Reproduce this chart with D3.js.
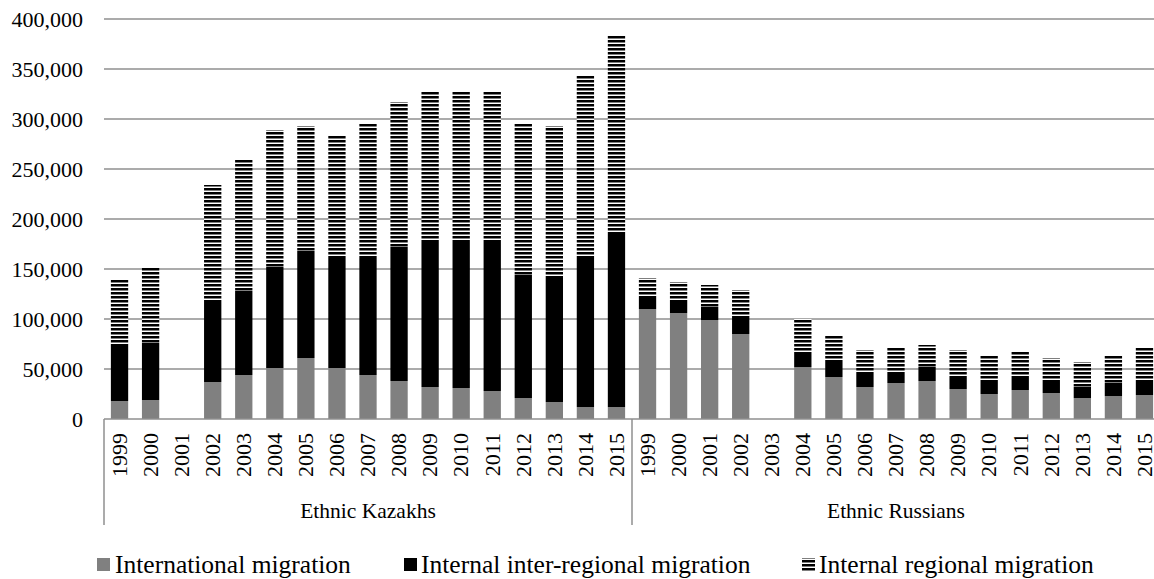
<!DOCTYPE html>
<html>
<head>
<meta charset="utf-8">
<script src="https://cdn.jsdelivr.net/npm/d3@7"></script>
<style>
  html, body { margin: 0; padding: 0; background: #fff; }
  svg { display: block; font-family: "Liberation Serif", serif; }
</style>
</head>
<body>
<svg id="chart" width="1154" height="579"></svg>
<script>
// ---- data ----
const groups = ["Ethnic Kazakhs", "Ethnic Russians"];
const years = ["1999","2000","2001","2002","2003","2004","2005","2006","2007","2008","2009","2010","2011","2012","2013","2014","2015"];
const seriesNames = ["International migration", "Internal inter-regional migration", "Internal regional migration"];

const kazakhInternational = [18000,19000,0,37000,44000,51000,61000,51000,44000,38000,32000,31000,28000,21000,17000,12000,12000];
const kazakhInterRegional = [56000,57000,0,80000,84000,101000,107000,111000,118000,134000,146000,147000,150000,123000,124000,150000,173000];
const kazakhRegional      = [66000,75000,0,117000,131000,137000,125000,121000,133000,145000,150000,150000,149000,151000,152000,182000,198000];

const russianInternational = [110000,106000,99000,85000,0,52000,42000,32000,36000,38000,30000,25000,29000,26000,21000,23000,24000];
const russianInterRegional = [13000,12000,13000,16000,0,15000,15000,13000,11000,14000,13000,13000,12000,11000,11000,13000,15000];
const russianRegional      = [18000,19000,22000,28000,0,33000,26000,24000,24000,22000,26000,25000,26000,24000,25000,27000,32000];

const yTicks = [0,50000,100000,150000,200000,250000,300000,350000,400000];

// ---- table ----
const keys = ["intl", "inter", "regional"];
const rows = [];
years.forEach((yr, i) => rows.push({id: "K" + yr, year: yr, group: groups[0],
  intl: kazakhInternational[i], inter: kazakhInterRegional[i], regional: kazakhRegional[i]}));
years.forEach((yr, i) => rows.push({id: "R" + yr, year: yr, group: groups[1],
  intl: russianInternational[i], inter: russianInterRegional[i], regional: russianRegional[i]}));

const svg = d3.select("#chart");

// pattern
const defs = svg.append("defs");
const pat = defs.append("pattern").attr("id", "hatch")
  .attr("patternUnits", "userSpaceOnUse").attr("width", 8).attr("height", 4);
pat.append("rect").attr("x", 0).attr("y", 0).attr("width", 8).attr("height", 4).attr("fill", "#fff");
pat.append("rect").attr("x", 0).attr("y", 0).attr("width", 8).attr("height", 2.5).attr("fill", "#000");

const fills = {intl: "#808080", inter: "#000000", regional: "url(#hatch)"};

const plotLeft = 104, plotRight = 1160, plotTop = 19, plotBottom = 419;

const x = d3.scaleBand().domain(rows.map(d => d.id)).range([plotLeft, plotRight])
  .paddingInner(0.443).paddingOuter(0.2215);
const y = d3.scaleLinear().domain([0, 400000]).range([plotBottom, plotTop]);

// gridlines
svg.append("g").selectAll("line").data(yTicks.filter(t => t > 0)).join("line")
  .attr("x1", plotLeft).attr("x2", plotRight)
  .attr("y1", d => y(d)).attr("y2", d => y(d))
  .attr("stroke", "#8f8f8f").attr("stroke-width", 1.3);

// y labels
svg.append("g").selectAll("text").data(yTicks).join("text")
  .attr("x", 83).attr("y", d => y(d) + 7.5)
  .attr("text-anchor", "end").attr("font-size", 22).attr("fill", "#000")
  .text(d => d3.format(",")(d));

// bars
const stacked = d3.stack().keys(keys)(rows);
svg.append("g").selectAll("g").data(stacked).join("g")
  .attr("fill", s => fills[s.key])
  .selectAll("rect").data(s => s).join("rect")
  .attr("x", d => x(d.data.id))
  .attr("width", x.bandwidth())
  .attr("y", d => y(d[1]))
  .attr("height", d => Math.max(0, y(d[0]) - y(d[1])));

// category axis
const axisG = svg.append("g");
axisG.append("line").attr("x1", plotLeft).attr("x2", plotRight)
  .attr("y1", plotBottom).attr("y2", plotBottom)
  .attr("stroke", "#8f8f8f").attr("stroke-width", 1.5);
[0, 17, 34].forEach(i => {
  const xx = plotLeft + i * x.step();
  axisG.append("line").attr("x1", xx).attr("x2", xx)
    .attr("y1", plotBottom).attr("y2", 525)
    .attr("stroke", "#8f8f8f").attr("stroke-width", 1.5);
});
axisG.selectAll("text.yr").data(rows).join("text").attr("class", "yr")
  .attr("transform", d => `translate(${x(d.id) + x.bandwidth() / 2},433) rotate(-90)`)
  .attr("text-anchor", "end").attr("dy", "0.33em")
  .attr("font-size", 22).attr("fill", "#000")
  .text(d => d.year);
axisG.selectAll("text.grp").data(groups).join("text").attr("class", "grp")
  .attr("x", (d, i) => plotLeft + (i * 17 + 8.5) * x.step())
  .attr("y", 518).attr("text-anchor", "middle")
  .attr("font-size", 21.5).attr("fill", "#000")
  .text(d => d);

// legend
const legendItems = [
  {name: seriesNames[0], fill: fills.intl, sx: 97, tx: 115},
  {name: seriesNames[1], fill: fills.inter, sx: 404, tx: 421},
  {name: seriesNames[2], fill: fills.regional, sx: 802, tx: 819}
];
const lg = svg.append("g");
lg.selectAll("rect").data(legendItems).join("rect")
  .attr("x", d => d.sx).attr("y", 558).attr("width", 13).attr("height", 13)
  .attr("fill", d => d.fill);
lg.selectAll("text").data(legendItems).join("text")
  .attr("x", d => d.tx).attr("y", 573)
  .attr("font-size", 25.5).attr("fill", "#000")
  .text(d => d.name);
</script>
</body>
</html>
